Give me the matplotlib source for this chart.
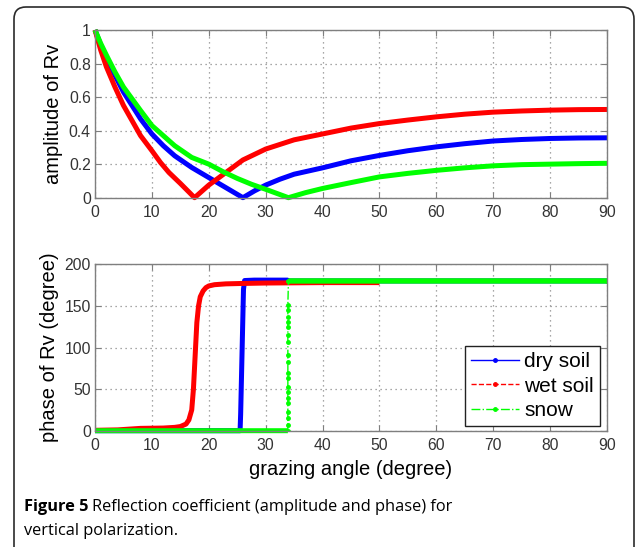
import matplotlib
matplotlib.use("Agg")
import matplotlib.pyplot as plt
import matplotlib.patches as mpatches
from matplotlib.lines import Line2D
from matplotlib.transforms import IdentityTransform

# amplitude of Rv vs grazing angle
dry_amp_x = [0, 1, 2, 3.5, 5, 6.5, 8, 10, 12, 14, 17, 20, 23, 26, 28, 30, 32.5, 35, 40, 45, 50, 55, 60, 65, 70, 75, 80, 85, 90]
dry_amp_y = [1.0, 0.91, 0.83, 0.73, 0.63, 0.55, 0.47, 0.38, 0.31, 0.25, 0.18, 0.12, 0.06, 0.0, 0.04, 0.075, 0.11, 0.14, 0.178, 0.22, 0.252, 0.28, 0.303, 0.322, 0.338, 0.347, 0.353, 0.356, 0.357]

wet_amp_x = [0, 1, 2, 3.5, 5, 6.5, 8, 10, 11.5, 13, 15, 17.5, 20, 23, 26, 30, 35, 40, 45, 50, 55, 60, 65, 70, 75, 80, 85, 90]
wet_amp_y = [1.0, 0.88, 0.78, 0.66, 0.55, 0.46, 0.37, 0.28, 0.21, 0.15, 0.085, 0.0, 0.075, 0.15, 0.225, 0.29, 0.345, 0.38, 0.415, 0.442, 0.463, 0.482, 0.498, 0.51, 0.517, 0.522, 0.525, 0.526]

snow_amp_x = [0, 1, 2, 3.5, 5, 6.5, 8, 10, 12, 14, 17, 20, 22.5, 25, 27.5, 30, 32, 34, 37, 40, 45, 50, 55, 60, 65, 70, 75, 80, 85, 90]
snow_amp_y = [1.0, 0.92, 0.85, 0.75, 0.66, 0.59, 0.52, 0.43, 0.37, 0.31, 0.24, 0.2, 0.155, 0.115, 0.08, 0.05, 0.025, 0.0, 0.03, 0.055, 0.09, 0.124, 0.145, 0.163, 0.178, 0.19, 0.197, 0.2, 0.203, 0.205]

# phase of Rv (degree)
dry_ph_x = [0, 25.5, 25.6, 25.8, 26.0, 26.1, 26.3, 28, 33.8, 34.0, 90]
dry_ph_y = [0, 0, 20, 80, 140, 170, 180.5, 181, 181, 180, 180]

wet_ph_x = [0, 4, 8, 12, 14, 15, 16, 16.5, 17, 17.3, 17.6, 17.9, 18.2, 18.5, 19, 19.5, 20, 21, 23, 26, 30, 40, 50]
wet_ph_y = [0.5, 1, 2.8, 3.2, 4, 5, 8, 13, 25, 50, 90, 130, 150, 161, 168, 172, 174, 175.5, 176.5, 177, 177.5, 178, 178]

snow_ph_x = [0, 33.9, 33.9, 33.9, 33.9, 33.9, 33.9, 33.9, 33.9, 33.9, 33.9, 33.9, 33.9, 33.9, 33.9, 33.9, 33.9, 33.9, 33.9, 33.9, 34.0, 90]
snow_ph_y = [0, 0, 7, 15, 23, 33, 39, 47, 53, 63, 69, 83, 91, 107, 115, 125, 131, 137, 145, 151, 180, 180]

x_ticks = [0, 10, 20, 30, 40, 50, 60, 70, 80, 90]
amp_ticks = [0, 0.2, 0.4, 0.6, 0.8, 1]
ph_ticks = [0, 50, 100, 150, 200]
labels = ["dry soil", "wet soil", "snow"]

BLUE, RED, GREEN = "#0000ff", "#ff0000", "#00ff00"
TICK_COL = "#333333"
EDGE_COL = "#7f7f7f"
LW = 3.6
line_kw = dict(clip_on=False, snap=False, solid_capstyle="butt")

plt.rcParams["font.family"] = ["Liberation Sans", "DejaVu Sans"]

fig = plt.figure(figsize=(6.36, 5.47), dpi=100)
ax1 = fig.add_axes([0.1494, 0.6386, 0.8050, 0.3066])
ax2 = fig.add_axes([0.1494, 0.2126, 0.8050, 0.3042])


def style_axes(ax):
    ax.set_xlim(0, 90)
    ax.set_xticks(x_ticks)
    ax.grid(True, linestyle=(0, (1, 3)), color="#8a8a8a", linewidth=0.9)
    ax.tick_params(direction="in", length=4, width=0.8, color=EDGE_COL,
                   top=True, right=True, labelsize=11.3, labelcolor=TICK_COL)
    ax.tick_params(axis="x", pad=5)
    ax.tick_params(axis="y", pad=3)
    for s in ax.spines.values():
        s.set_color(EDGE_COL)
        s.set_linewidth(1.0)


ax1.plot(dry_amp_x, dry_amp_y, color=BLUE, lw=LW, **line_kw)
ax1.plot(wet_amp_x, wet_amp_y, color=RED, lw=LW, **line_kw)
ax1.plot(snow_amp_x, snow_amp_y, color=GREEN, lw=LW, **line_kw)
style_axes(ax1)
ax1.set_ylim(0, 1)
ax1.set_yticks(amp_ticks)
ax1.set_yticklabels(["0", "0.2", "0.4", "0.6", "0.8", "1"])
ax1.set_ylabel("amplitude of Rv", fontsize=14.5, labelpad=4)

ax2.plot(dry_ph_x, dry_ph_y, color=BLUE, lw=LW, **line_kw)
ax2.plot(wet_ph_x, wet_ph_y, color=RED, lw=LW, **line_kw)
# snow: thick horizontal parts, dotted vertical jump
ax2.plot(snow_ph_x, snow_ph_y, color=GREEN, lw=1, linestyle="-.", marker=".", ms=5,
         snap=False)
ax2.plot(snow_ph_x[:2], snow_ph_y[:2], color=GREEN, lw=LW, **line_kw)
ax2.plot(snow_ph_x[-2:], snow_ph_y[-2:], color=GREEN, lw=LW + 0.3, **line_kw)
style_axes(ax2)
ax2.set_ylim(0, 200)
ax2.set_yticks(ph_ticks)
ax2.set_ylabel("phase of Rv (degree)", fontsize=14.5, labelpad=4)
ax2.set_xlabel("grazing angle (degree)", fontsize=14.5, labelpad=5)

handles = [
    Line2D([], [], color=BLUE, lw=1, linestyle="-", marker=".", ms=5),
    Line2D([], [], color=RED, lw=1, linestyle="--", marker=".", ms=5),
    Line2D([], [], color=GREEN, lw=1, linestyle="-.", marker=".", ms=5),
]
leg = ax2.legend(handles, labels, loc="lower right", bbox_to_anchor=(0.986, 0.028),
                 borderaxespad=0, fontsize=15, fancybox=False, framealpha=1,
                 edgecolor="#222222", handlelength=2.3, handletextpad=0.25,
                 labelspacing=0.25, borderpad=0.3, markerscale=1)
leg.get_frame().set_linewidth(1.0)

# rounded frame around the figure panel
frame = mpatches.FancyBboxPatch((14, -20), 620, 560,
                                boxstyle="round,pad=0,rounding_size=12",
                                transform=IdentityTransform(), fill=False,
                                edgecolor="#2a2a2a", linewidth=1.2)
fig.add_artist(frame)

# caption
cap_font = ["Open Sans", "DejaVu Sans"]
cap_size = 11.8
t1 = fig.text(24 / 636, 1 - 507 / 547, "Figure 5", fontsize=cap_size, fontweight="bold",
              family=cap_font, va="center", ha="left")
fig.canvas.draw()
bb = t1.get_window_extent()
fig.text((bb.x1 + 4) / 636, 1 - 507 / 547,
         "Reflection coefficient (amplitude and phase) for",
         fontsize=cap_size, family=cap_font, va="center", ha="left")
fig.text(24 / 636, 1 - 531 / 547, "vertical polarization.", fontsize=cap_size,
         family=cap_font, va="center", ha="left")

fig.savefig("out.png", dpi=100)
